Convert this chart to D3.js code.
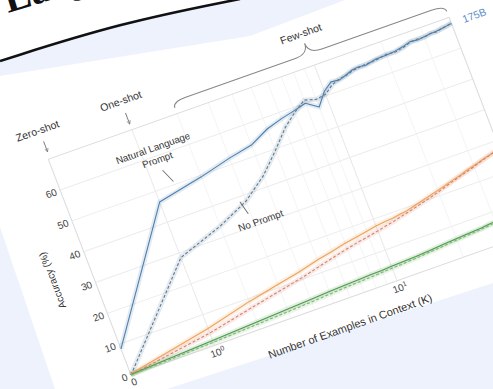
<!DOCTYPE html>
<html>
<head>
<meta charset="utf-8">
<script src="https://cdn.jsdelivr.net/npm/d3@7"></script>
<style>
  html, body { margin: 0; padding: 0; background: #eef2fd; }
  svg { display: block; }
</style>
</head>
<body>
<svg id="chart" width="493" height="389"></svg>
<script>
// Number of in-context examples K
const kValues = [0,1,2,3,4,5,6,7,8,9,10,11,12,13,14,15,16,18,20,22,24,26,28,30,32,34,36,38,40];

// Accuracy (%) per model, with and without a natural language prompt
const acc175BPrompt   = [8.5,46.5,49.5,52,53.5,56.5,58,59,60,57.5,61.5,63.5,63.2,64,64.8,65,64.7,65.5,65.5,65.8,66.3,67,66.7,67,67.2,67.3,67.5,67.8,68];
const acc175BNoPrompt = [0,28.5,33.5,38,43.5,49.5,55,58.5,61,60,60.5,62.5,63.5,63.8,64.5,64.8,65,65.2,65.8,65.5,66,66.8,67,66.8,67.3,67.1,67.6,67.7,68.2];
const acc13BPrompt    = [0.3,5.5,9,11,12.5,14,15,16,16.6,17.2,17.8,18.1,18.3,18.7,19,19.5,20,20.9,21.7,22.5,23.2,23.8,24.6,25.1,25.6,26.2,26.6,27.1,27.6];
const acc13BNoPrompt  = [0,4,7,9,10.5,12,13.2,14.2,15,15.6,16.2,16.8,17.3,17.9,18.4,18.9,19.4,20.3,21.2,22.1,22.9,23.6,24.2,24.8,25.5,26,26.5,26.9,27.4];
const acc13Prompt     = [0.2,1.6,2.4,3.0,3.4,3.8,4.0,4.2,4.4,4.5,4.7,4.8,4.9,5.0,5.2,5.3,5.5,5.8,6.0,6.2,6.4,6.5,6.8,7.0,7.3,7.5,7.8,8.0,8.3];
const acc13NoPrompt   = [0,1.0,1.7,2.2,2.6,3.0,3.3,3.5,3.7,3.9,4.1,4.2,4.4,4.5,4.7,4.9,5.0,5.3,5.6,5.8,6.0,6.2,6.4,6.7,6.9,7.1,7.3,7.6,7.8];

const modelName = "175B";
const yTicks = [0,10,20,30,40,50,60];
const xTicks = [0,1,10];

const svg = d3.select("#chart");
const sans = "Liberation Sans, Arial, sans-serif";

// ---- paper & card backdrop ----
svg.append("rect").attr("width", 493).attr("height", 389).attr("fill", "#eef2fd");

const outline = d3.line();
const cardShape = [[0,76],[250,36],[345,0],[493,0],[493,283],[250,362],[167,389],[55,389],[0,227]];
svg.append("path").attr("d", outline(cardShape) + "Z").attr("fill", "#ffffff");

const headerShape = [[0,0],[240,0],[120,23],[0,61]];
svg.append("path").attr("d", outline(headerShape) + "Z").attr("fill", "#ffffff");
svg.append("path")
  .attr("d", d3.line().curve(d3.curveBasis)([[0,61],[120,23],[240,-1]]))
  .attr("fill", "none").attr("stroke", "#111").attr("stroke-width", 2.6);

svg.append("text")
  .attr("transform", "translate(8,13) rotate(-17)")
  .attr("font-family", "Liberation Serif, DejaVu Serif, serif")
  .attr("font-weight", "bold")
  .attr("font-size", 40)
  .attr("fill", "#111")
  .text("Larger");

// ---- chart, laid on the tilted page ----
const defs = svg.append("defs");
defs.append("marker")
  .attr("id", "head").attr("viewBox", "0 0 10 10").attr("refX", 9).attr("refY", 5)
  .attr("markerWidth", 5).attr("markerHeight", 5).attr("orient", "auto")
  .append("path").attr("d", "M1,1 L9,5 L1,9").attr("fill", "none").attr("stroke", "#777").attr("stroke-width", 1.5);

const g = svg.append("g").attr("transform", "matrix(0.943,-0.334,0.358,0.934,131,375)");

const x = d3.scaleSymlog().constant(0.78).domain([0, 40]).range([0, 425]);
const y = d3.scaleLinear().domain([0, 70]).range([0, -231]);

// grid
const minorX = [2,3,4,5,6,7,8,9,20,30,40];
g.append("g").selectAll("line").data(minorX).join("line")
  .attr("x1", d => x(d)).attr("x2", d => x(d)).attr("y1", y(0)).attr("y2", y(70))
  .attr("stroke", "#f3f3f3").attr("stroke-width", 0.8);
g.append("g").selectAll("line").data(xTicks.slice(1)).join("line")
  .attr("x1", d => x(d)).attr("x2", d => x(d)).attr("y1", y(0)).attr("y2", y(70))
  .attr("stroke", "#e9e9e9").attr("stroke-width", 1);
g.append("g").selectAll("line").data(yTicks.slice(1)).join("line")
  .attr("x1", x(0)).attr("x2", x(40)).attr("y1", d => y(d)).attr("y2", d => y(d))
  .attr("stroke", "#ececec").attr("stroke-width", 1);
g.append("rect")
  .attr("x", x(0)).attr("y", y(70)).attr("width", x(40) - x(0)).attr("height", y(0) - y(70))
  .attr("fill", "none").attr("stroke", "#dcdcdc").attr("stroke-width", 1);

// axes
const yAxis = g.append("g").call(d3.axisLeft(y).tickValues(yTicks).tickSize(0).tickPadding(4));
yAxis.select(".domain").remove();
yAxis.selectAll("text").attr("font-size", 10).attr("font-family", sans).attr("fill", "#444");

const xAxis = g.append("g").call(d3.axisBottom(x).tickValues(xTicks).tickSize(0).tickPadding(4).tickFormat(() => ""));
xAxis.select(".domain").remove();
xAxis.selectAll("text").each(function(d) {
  const t = d3.select(this).attr("font-size", 10).attr("font-family", sans).attr("fill", "#444");
  if (d === 0) { t.text("0"); return; }
  t.append("tspan").text("10");
  t.append("tspan").attr("dy", "-0.5em").attr("font-size", 7).text(String(Math.round(Math.log10(d))));
});

g.append("text")
  .attr("x", x(10) - 60).attr("y", 31)
  .attr("text-anchor", "middle").attr("font-size", 11).attr("font-family", sans).attr("fill", "#333")
  .text("Number of Examples in Context (K)");
g.append("text")
  .attr("transform", `translate(-36,${y(35)}) rotate(-90)`)
  .attr("text-anchor", "middle").attr("font-size", 10).attr("font-family", sans).attr("fill", "#333")
  .text("Accuracy (%)");

// series
const series = [
  { vals: acc175BPrompt,   color: "#4f80ae", dash: null },
  { vals: acc175BNoPrompt, color: "#5c7c98", dash: "3,2" },
  { vals: acc13BPrompt,    color: "#eea25a", dash: null },
  { vals: acc13BNoPrompt,  color: "#d7826e", dash: "3,2" },
  { vals: acc13Prompt,     color: "#4e9a4e", dash: null },
  { vals: acc13NoPrompt,   color: "#7cb872", dash: "3,2" }
];
const path = d3.line().x((d, i) => x(kValues[i])).y(d => y(d));

g.append("g").selectAll("path").data(series).join("path")
  .attr("d", s => path(s.vals))
  .attr("fill", "none").attr("stroke", s => s.color).attr("stroke-opacity", 0.16)
  .attr("stroke-width", 5).attr("stroke-linejoin", "round");
g.append("g").selectAll("path").data(series).join("path")
  .attr("d", s => path(s.vals))
  .attr("fill", "none").attr("stroke", s => s.color)
  .attr("stroke-width", 1.1).attr("stroke-dasharray", s => s.dash)
  .attr("stroke-linejoin", "round");

// model label at the end of the largest model's line
g.append("text")
  .attr("x", x(40) + 12).attr("y", y(acc175BPrompt[acc175BPrompt.length - 1])).attr("dy", "0.35em")
  .attr("font-size", 10.5).attr("font-family", sans).attr("fill", "#5b8fc7")
  .text(modelName);

// annotations
const ann = g.append("g").attr("font-family", sans).attr("fill", "#333");
ann.append("text").attr("x", x(0)).attr("y", y(79.2)).attr("dy", "0.35em")
  .attr("text-anchor", "middle").attr("font-size", 10.5).text("Zero-shot");
ann.append("text").attr("x", x(1)).attr("y", y(79.3)).attr("dy", "0.35em")
  .attr("text-anchor", "middle").attr("font-size", 10.5).text("One-shot");
ann.append("text").attr("x", (x(2) + x(40)) / 2).attr("y", y(80.3)).attr("dy", "0.35em")
  .attr("text-anchor", "middle").attr("font-size", 10.5).text("Few-shot");

ann.append("line").attr("x1", x(0) + 2).attr("x2", x(0) + 2).attr("y1", y(75.6)).attr("y2", y(72.2))
  .attr("stroke", "#777").attr("stroke-width", 0.9).attr("marker-end", "url(#head)");
ann.append("line").attr("x1", x(1)).attr("x2", x(1)).attr("y1", y(75.4)).attr("y2", y(71.8))
  .attr("stroke", "#777").attr("stroke-width", 0.9).attr("marker-end", "url(#head)");

// brace over the few-shot range
const bx0 = x(2), bx1 = x(40), bxc = (bx0 + bx1) / 2;
const yb = y(71.9), ym = y(73.8), yt = y(77.2);
ann.append("path")
  .attr("d", `M${bx0},${yb} Q${bx0},${ym} ${bx0 + 14},${ym} L${bxc - 14},${ym} Q${bxc},${ym} ${bxc},${yt} Q${bxc},${ym} ${bxc + 14},${ym} L${bx1 - 14},${ym} Q${bx1},${ym} ${bx1},${yb}`)
  .attr("fill", "none").attr("stroke", "#888").attr("stroke-width", 1);

ann.append("text").attr("x", x(1.23)).attr("y", y(62.6)).attr("dy", "0.35em")
  .attr("text-anchor", "middle").attr("font-size", 9.8).text("Natural Language");
ann.append("text").attr("x", x(1.23)).attr("y", y(58.8)).attr("dy", "0.35em")
  .attr("text-anchor", "middle").attr("font-size", 9.8).text("Prompt");
ann.append("line").attr("x1", x(1.25)).attr("x2", x(1.37)).attr("y1", y(55.3)).attr("y2", y(51))
  .attr("stroke", "#666").attr("stroke-width", 0.9);

ann.append("text").attr("x", x(3.25)).attr("y", y(31)).attr("dy", "0.35em")
  .attr("text-anchor", "middle").attr("font-size", 9.8).text("No Prompt");
ann.append("line").attr("x1", x(2.8)).attr("x2", x(2.92)).attr("y1", y(38.5)).attr("y2", y(34.2))
  .attr("stroke", "#666").attr("stroke-width", 0.9);
</script>
</body>
</html>
